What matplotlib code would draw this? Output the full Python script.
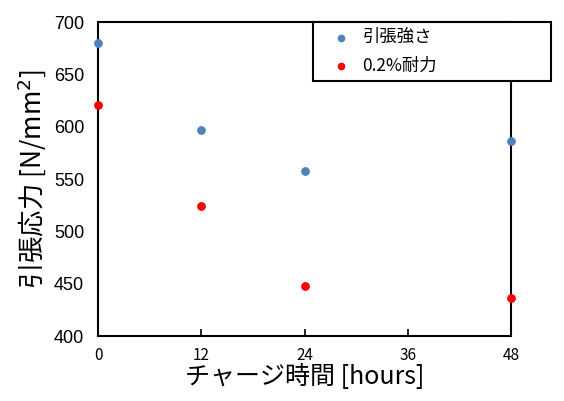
import matplotlib
matplotlib.use("Agg")
import matplotlib.pyplot as plt

plt.rcParams["font.family"] = ["Liberation Sans", "Noto Sans CJK JP", "DejaVu Sans"]
JP = ["Noto Sans CJK JP", "DejaVu Sans"]

hours = [0, 12, 24, 48]
tensile = [680, 597, 558, 586]
proof = [621, 524, 448, 436]
x_ticks = [0, 12, 24, 36, 48]
y_ticks = [400, 450, 500, 550, 600, 650, 700]

fig = plt.figure(figsize=(5.64, 4.01), dpi=100)
ax = fig.add_axes([0.174, 0.162, 0.732, 0.783])

ax.scatter(hours, tensile, s=28, color="#4f81bd", label="引張強さ", clip_on=False, zorder=3)
ax.scatter(hours, proof, s=28, color="#ff0000", label="0.2%耐力", clip_on=False, zorder=3)

ax.set_xlim(0, 48)
ax.set_ylim(400, 700)
ax.set_xticks(x_ticks)
ax.set_yticks(y_ticks)
ax.tick_params(axis="x", direction="in", length=5, width=1.2, pad=8, labelsize=11)
ax.tick_params(axis="y", length=0, pad=10, labelsize=13)
for lab in ax.get_xticklabels():
    lab.set_family(JP)
for lab in ax.get_yticklabels():
    lab.set_family("Liberation Sans")
for sp in ax.spines.values():
    sp.set_linewidth(1.5)

ax.set_xlabel("チャージ時間 [hours]", fontsize=18, family=JP, labelpad=0)
ax.set_ylabel("引張応力 [N/mm$^2$]", fontsize=19, family=JP, labelpad=4)

# legend box spans past the right edge of the axes
leg = ax.legend(loc="upper left", bbox_to_anchor=(0.52, 0.0, 0.577, 1.0), mode="expand",
                frameon=True, fancybox=False, framealpha=1, edgecolor="black", borderpad=0.35,
                handlelength=2.6, handletextpad=-0.1, labelspacing=0.6, borderaxespad=0,
                markerscale=0.85, prop={"family": JP, "size": 12.5})
leg.get_frame().set_linewidth(1.5)
leg.set_zorder(5)

fig.savefig("out.png", dpi=100)
